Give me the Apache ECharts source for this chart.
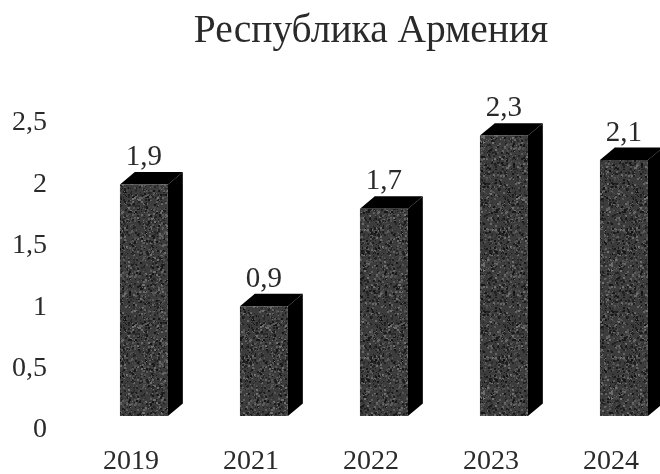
<!DOCTYPE html>
<html><head><meta charset="utf-8">
<style>html,body{margin:0;padding:0;background:#fff;overflow:hidden}#c{width:660px;height:474px;overflow:hidden}</style>
<script src="https://cdn.jsdelivr.net/npm/echarts@6/dist/echarts.min.js"></script>
</head><body><div id="c"></div>
<script>
const titleText = 'Республика Армения';
const categories = ['2019','2021','2022','2023','2024'];
const values = [1.9,0.9,1.7,2.3,2.1];
const comma = v => String(v).replace('.',',');

// deterministic print-grain texture for the bar fronts
function grain(){
  const s=128,c=document.createElement('canvas');c.width=c.height=s;
  const g=c.getContext('2d');let h=12345;
  const next=()=>{h=(h*1103515245+12345)&0x7fffffff;return (h>>>8)/0x7fffff;};
  g.fillStyle='#3c3c3c';g.fillRect(0,0,s,s);
  for(let i=0;i<3600;i++){
    const x=Math.floor(next()*s),y=Math.floor(next()*s),t=next();
    const v=t<0.5?20+Math.floor(next()*25):70+Math.floor(next()*45);
    const w=next()<0.5?2:1;
    g.fillStyle='rgb('+v+','+v+','+v+')';g.fillRect(x,y,w,w);
  }
  const d=document.createElement('canvas');d.width=d.height=s;
  const q=d.getContext('2d');q.filter='blur(0.6px)';q.drawImage(c,0,0);
  return d;
}
const tex=grain();
const chart=echarts.init(document.getElementById('c'),null,{renderer:'canvas'});
chart.setOption({
  animation:false,
  backgroundColor:'#fff',
  title:{text:titleText,left:366,top:7,textAlign:'center',
    textStyle:{fontFamily:'Liberation Serif',fontSize:39.5,fontWeight:'normal',color:'#2a2a2a'}},
  grid:{left:71,top:123,right:-11,bottom:44,outerBoundsMode:'none'},
  xAxis:{type:'category',data:categories,axisLine:{show:false},axisTick:{show:false},
    axisLabel:{margin:18,fontFamily:'Liberation Serif',fontSize:28,color:'#2a2a2a',interval:0}},
  yAxis:{type:'value',min:0,max:2.5,interval:0.5,splitLine:{show:false},axisLine:{show:false},axisTick:{show:false},
    axisLabel:{margin:24,fontFamily:'Liberation Serif',fontSize:28,color:'#2a2a2a',formatter:comma}},
  series:[{type:'custom',clip:false,data:values.map((v,i)=>[i,v]),encode:{x:0,y:1},
    renderItem(params,api){
      const o=api.coord([api.value(0),0]);
      const t=api.coord([api.value(0),api.value(1)]);
      const bw=api.size([1,0])[0]*0.4;
      const dx=bw*0.31, dy=bw*0.26, cx=o[0]+bw*0.27, by=o[1]-bw*0.29;
      const top=by-(o[1]-t[1])*0.993;
      const l=cx-bw/2, r=cx+bw/2;
      return {type:'group',children:[
        {type:'polygon',shape:{points:[[l,top],[r,top],[r+dx,top-dy],[l+dx,top-dy]]},style:{fill:'#000'}},
        {type:'polygon',shape:{points:[[r,top],[r+dx,top-dy],[r+dx,by-dy],[r,by]]},style:{fill:'#000'}},
        {type:'rect',shape:{x:l,y:top,width:bw,height:by-top},style:{fill:{image:tex,repeat:'repeat'}}},
        {type:'text',style:{x:cx,y:top-dy,text:comma(api.value(1)),textAlign:'center',textVerticalAlign:'bottom',
          font:'29px "Liberation Serif"',fill:'#2a2a2a'}}
      ]};
    }}]
});
</script></body></html>
